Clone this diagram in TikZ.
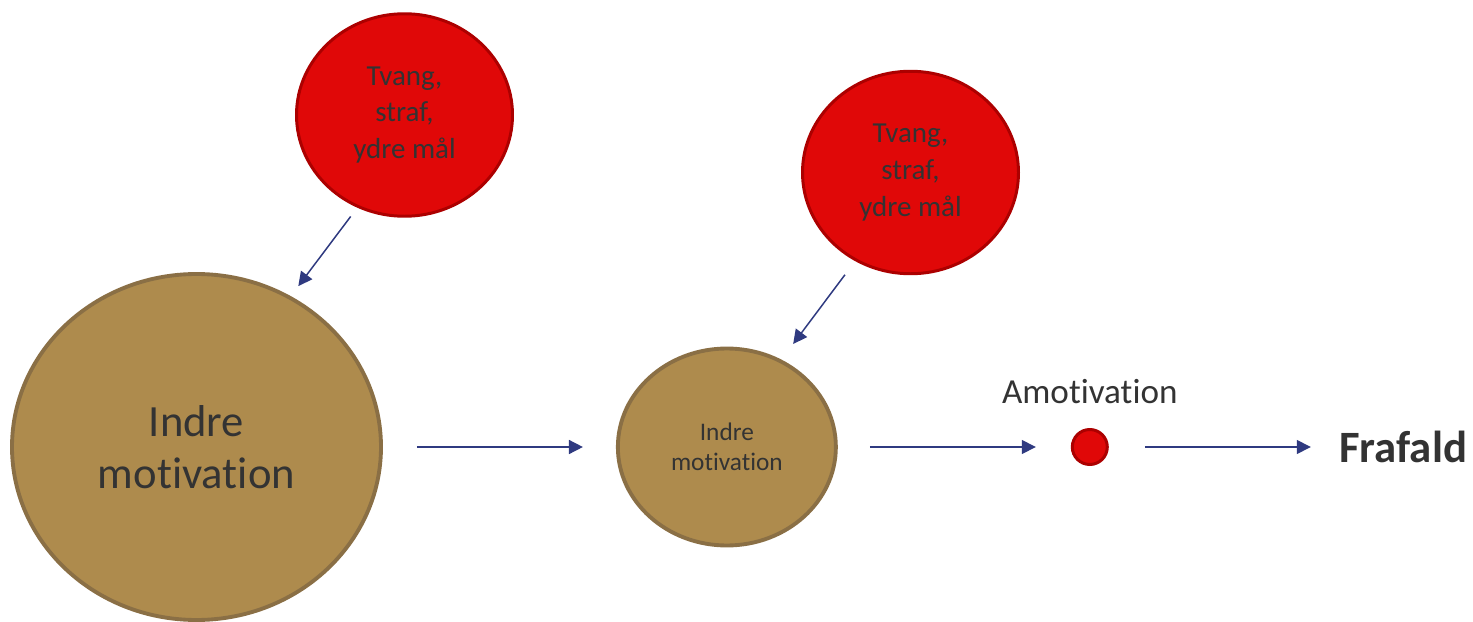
\documentclass[tikz,border=0pt]{standalone}
\usepackage{fontspec}
\setmainfont{Carlito}[Ligatures=CommonOff]
\usetikzlibrary{arrows.meta,positioning,shapes.geometric}
\definecolor{ochre}{RGB}{174,139,77}
\definecolor{ochreline}{RGB}{138,111,69}
\definecolor{alarm}{RGB}{224,8,8}
\definecolor{alarmline}{RGB}{172,0,0}
\definecolor{navy}{RGB}{47,58,128}
\definecolor{ink}{RGB}{51,51,51}

\begin{document}
\begin{tikzpicture}[
    text=ink,
    inner/.style={
        ellipse,
        draw=ochreline,
        fill=ochre,
        line width=2.2pt,
        inner sep=0pt,
        align=center
    },
    force/.style={
        ellipse,
        draw=alarmline,
        fill=alarm,
        line width=1.7pt,
        inner sep=0pt,
        minimum width=4.32cm,
        minimum height=4.05cm,
        align=center,
        font=\fontsize{16.5}{21}\selectfont
    },
    dot/.style={
        circle,
        draw=alarmline,
        fill=alarm,
        line width=1.7pt,
        inner sep=0pt,
        minimum size=0.70cm
    },
    word/.style={
        inner sep=0pt
    },
    arrow/.style={
        -{Triangle[length=2.8mm,width=2.8mm]},
        draw=navy,
        line width=0.85pt
    }
]
\useasboundingbox (0,0) rectangle (29.46,-12.44);

\node[inner, minimum width=7.38cm, minimum height=6.92cm,
      font=\fontsize{25.4}{29.6}\selectfont] (inner1) at (3.93,-8.94) {
    Indre\\
    motivation
};

\node[inner, minimum width=4.36cm, minimum height=3.94cm,
      font=\fontsize{14.4}{17}\selectfont, right=4.66cm of inner1] (inner2) {
    Indre\\
    motivation
};

\node[force] (force1) at (8.09,-2.30) {
    Tvang,\\
    straf,\\
    ydre mål
};

\node[force] (force2) at (18.21,-3.45) {
    Tvang,\\
    straf,\\
    ydre mål
};

\node[dot, right=4.66cm of inner2] (amotdot) {};

\node[word, above=0.47cm of amotdot, font=\fontsize{20}{24}\selectfont] (amot) {Amotivation};

\node[word, right=4.6cm of amotdot, font=\fontsize{25.5}{30}\selectfont\bfseries] (frafald) {Frafald};

\draw[arrow, shorten <=0.22cm, shorten >=0.25cm] (force1.243) -- (inner1.58);
\draw[arrow, shorten <=0.34cm, shorten >=0.39cm] (force2.238.5) -- (inner2.58.3);

\draw[arrow, shorten <=0.68cm, shorten >=0.66cm] (inner1) -- (inner2);
\draw[arrow, shorten <=0.64cm, shorten >=0.70cm] (amotdot -| inner2.east) -- (amotdot);
\draw[arrow, shorten <=0.72cm, shorten >=0.56cm] (amotdot) -- (amotdot -| frafald.west);

\end{tikzpicture}
\end{document}
